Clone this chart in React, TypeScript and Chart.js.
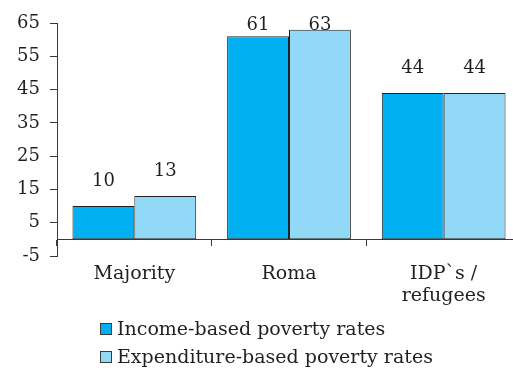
import React, { useEffect, useRef } from 'react';
import { Chart, registerables } from 'chart.js';

Chart.register(...registerables);

const categories: (string | string[])[] = ['Majority', 'Roma', ['IDP`s /', 'refugees']];
const incomeRates = [10, 61, 44];
const expenditureRates = [13, 63, 44];
const seriesNames = ['Income-based poverty rates', 'Expenditure-based poverty rates'];
const yTicks = [-5, 5, 15, 25, 35, 45, 55, 65];

const FONT = "'DejaVu Serif', serif";
const TEXT = '#231f20';
const LINE = '#3a3a3a';
const COLORS = ['#00b0f0', '#92d9f7'];

const valueLabels = {
  id: 'valueLabels',
  afterDatasetsDraw(chart: any) {
    const ctx = chart.ctx;
    ctx.save();
    ctx.font = `18px ${FONT}`;
    ctx.fillStyle = TEXT;
    ctx.textAlign = 'center';
    ctx.textBaseline = 'alphabetic';
    chart.data.datasets.forEach((ds: any, i: number) => {
      const meta = chart.getDatasetMeta(i);
      meta.data.forEach((bar: any, j: number) => {
        const y = Math.max(bar.y - 20, chart.chartArea.top + 7);
        ctx.fillText(String(ds.data[j]), bar.x, y);
      });
    });
    ctx.restore();
  },
};

const bottomLegend = {
  id: 'bottomLegend',
  afterDraw(chart: any) {
    const ctx = chart.ctx;
    const left = chart.chartArea.left;
    ctx.save();
    ctx.font = `19px ${FONT}`;
    ctx.textAlign = 'left';
    ctx.textBaseline = 'middle';
    chart.data.datasets.forEach((ds: any, i: number) => {
      const cy = chart.height - 45 + i * 28;
      const bx = left + 43;
      ctx.fillStyle = ds.backgroundColor;
      ctx.fillRect(bx + 0.5, Math.round(cy - 6) + 0.5, 11, 11);
      ctx.strokeStyle = LINE;
      ctx.lineWidth = 1;
      ctx.strokeRect(bx + 0.5, Math.round(cy - 6) + 0.5, 11, 11);
      ctx.fillStyle = TEXT;
      ctx.fillText(ds.label, bx + 17, cy + 1);
    });
    ctx.restore();
  },
};

export default function App() {
  const ref = useRef<HTMLCanvasElement | null>(null);

  useEffect(() => {
    if (!ref.current) return;
    const chart = new Chart(ref.current, {
      type: 'bar',
      data: {
        labels: categories,
        datasets: [
          {
            label: seriesNames[0],
            data: incomeRates,
            backgroundColor: COLORS[0],
            borderColor: '#222',
            borderWidth: 1,
            borderSkipped: false,
          },
          {
            label: seriesNames[1],
            data: expenditureRates,
            backgroundColor: COLORS[1],
            borderColor: '#222',
            borderWidth: 1,
            borderSkipped: false,
          },
        ],
      },
      options: {
        animation: false,
        responsive: false,
        devicePixelRatio: 1,
        layout: { padding: { top: 23, right: 9, bottom: 118, left: 0 } },
        plugins: {
          legend: { display: false },
          tooltip: { enabled: false },
        },
        datasets: { bar: { categoryPercentage: 0.8, barPercentage: 1 } },
        scales: {
          x: {
            position: { y: 0 } as any,
            grid: {
              display: true,
              drawOnChartArea: false,
              tickLength: 6,
              color: LINE,
              offset: true,
            },
            border: { display: true, color: LINE, width: 1 },
            ticks: {
              font: { family: FONT, size: 19 },
              color: TEXT,
              padding: 17,
              maxRotation: 0,
              autoSkip: false,
            },
          },
          y: {
            min: -5,
            max: 65,
            ticks: {
              stepSize: 10,
              font: { family: FONT, size: 18 },
              color: TEXT,
              padding: 10,
            },
            grid: {
              display: true,
              drawOnChartArea: false,
              tickLength: 7,
              color: LINE,
            },
            border: { display: true, color: LINE, width: 1 },
            afterBuildTicks: (s: any) => {
              s.ticks = yTicks.map((v) => ({ value: v }));
            },
            afterFit: (s: any) => {
              s.width = 57;
            },
          },
        },
      },
      plugins: [valueLabels, bottomLegend],
    });
    return () => chart.destroy();
  }, []);

  return (
    <div
      style={{
        position: 'fixed',
        left: 0,
        top: 0,
        width: 513,
        height: 374,
        overflow: 'hidden',
        background: '#fff',
      }}
    >
      <canvas ref={ref} width={530} height={374} style={{ display: 'block' }} />
    </div>
  );
}
